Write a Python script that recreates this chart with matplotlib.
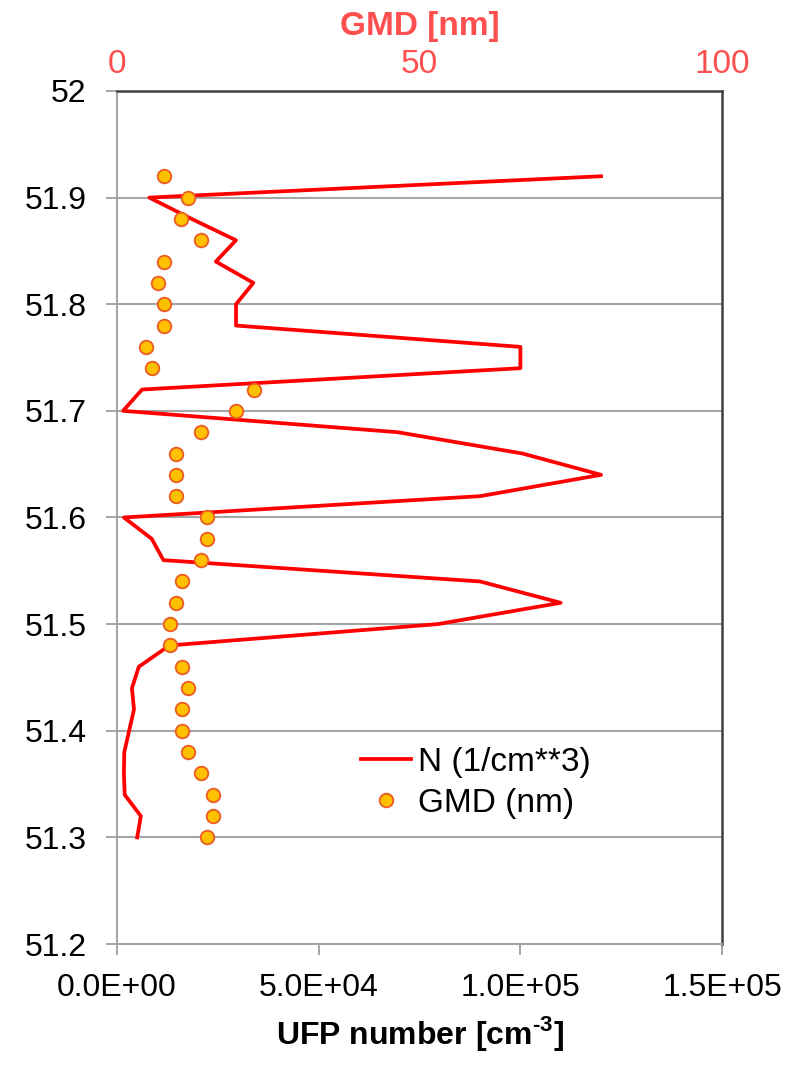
import matplotlib
matplotlib.use("Agg")
import matplotlib.pyplot as plt
from matplotlib.ticker import FuncFormatter

plt.rcParams['font.family'] = ['Liberation Sans', 'DejaVu Sans']
plt.rcParams['mathtext.fontset'] = 'custom'
plt.rcParams['mathtext.rm'] = 'Liberation Sans'
plt.rcParams['mathtext.bf'] = 'Liberation Sans:bold'

# depth / latitude values (y), particle number and GMD
lat = [51.92, 51.90, 51.88, 51.86, 51.84, 51.82, 51.80, 51.78,
       51.76, 51.74, 51.72, 51.70, 51.68, 51.66, 51.64, 51.62,
       51.60, 51.58, 51.56, 51.54, 51.52, 51.50, 51.48, 51.46,
       51.44, 51.42, 51.40, 51.38, 51.36, 51.34, 51.32, 51.30]
n_conc = [120000, 8000, 18500, 29500, 24500, 33800, 29500, 29500,
          100000, 100000, 6200, 1500, 69500, 100500, 120000, 90000,
          1700, 8600, 11500, 90000, 110000, 79500, 13000, 5400,
          3700, 4200, 3000, 1800, 1700, 1900, 5900, 5000]
gmd = [7.8, 11.7, 10.6, 13.8, 7.8, 6.8, 7.8, 7.8,
       4.8, 5.8, 22.6, 19.7, 13.8, 9.7, 9.7, 9.7,
       14.8, 14.8, 13.8, 10.7, 9.7, 8.7, 8.7, 10.7,
       11.7, 10.7, 10.7, 11.7, 13.8, 15.9, 15.9, 14.8]

y_ticks = [51.2, 51.3, 51.4, 51.5, 51.6, 51.7, 51.8, 51.9, 52.0]
y_labels = ['51.2', '51.3', '51.4', '51.5', '51.6', '51.7', '51.8', '51.9', '52']
n_ticks = [0, 50000, 100000, 150000]
gmd_ticks = [0, 50, 100]

red_txt = '#FF4F4F'
grey = '#A6A6A6'
dark = '#404040'

fig = plt.figure(figsize=(7.94, 10.65), dpi=100)
ax = fig.add_axes([0.1474, 0.1136, 0.7620, 0.8010])

ax.plot(n_conc, lat, color='#FF0000', lw=2.7, label='N (1/cm**3)', zorder=3)
ax.set_xlim(0, 150000)
ax.set_ylim(51.2, 52.0)
ax.set_xticks(n_ticks)
ax.xaxis.set_major_formatter(FuncFormatter(lambda v, p: f"{v:.1E}"))
ax.set_yticks(y_ticks)
ax.set_yticklabels(y_labels)
ax.tick_params(axis='both', labelsize=23, color=grey, width=1.4, length=8, direction='out')
ax.tick_params(axis='y', pad=14)
ax.tick_params(axis='x', pad=13)
ax.grid(axis='y', color=grey, lw=1.5, zorder=1)
ax.set_axisbelow(True)
for s in ['left', 'bottom']:
    ax.spines[s].set_color(grey)
    ax.spines[s].set_linewidth(1.5)
for s in ['top', 'right']:
    ax.spines[s].set_color(dark)
    ax.spines[s].set_linewidth(1.8)
ax.set_xlabel('UFP number [cm$^{\\mathbf{\u2010 3}}$]', fontsize=23, fontweight='bold', labelpad=8)

ax2 = ax.twiny()
ax2.plot(gmd, lat, ls='none', marker='o', ms=9.8, mfc='#FFC000', mec='#EC5A24', mew=1.3,
         label='GMD (nm)', zorder=4)
ax2.set_xlim(0, 100)
ax2.set_xticks(gmd_ticks)
ax2.tick_params(axis='x', labelsize=24, labelcolor=red_txt, length=0, pad=8)
for s in ax2.spines.values():
    s.set_visible(False)
ax2.set_xlabel('GMD [nm]', fontsize=24, fontweight='bold', color=red_txt, labelpad=10)

h1, l1 = ax.get_legend_handles_labels()
h2, l2 = ax2.get_legend_handles_labels()
ax2.legend(h1 + h2, l1 + l2, loc='upper left', bbox_to_anchor=(0.455, 0.299),
           bbox_transform=fig.transFigure, frameon=False, fontsize=24,
           handlelength=1.5, handletextpad=0.2, labelspacing=0.3,
           borderpad=0, borderaxespad=0)

fig.savefig('out.png', dpi=100)
